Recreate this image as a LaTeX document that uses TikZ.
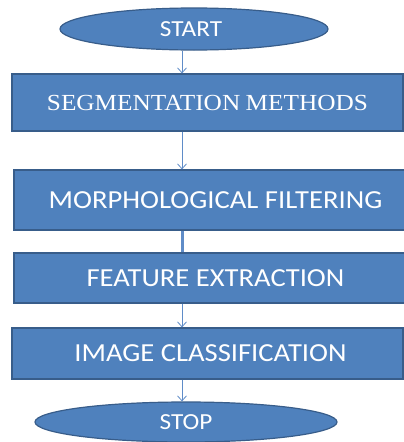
\documentclass[tikz,border=0pt]{standalone}
\usepackage{fontspec}
\setmainfont{Carlito}
\newfontfamily\serifcaps{Liberation Serif}
\usetikzlibrary{shapes.geometric,arrows.meta}
\definecolor{boxfill}{HTML}{4F81BD}
\definecolor{boxedge}{HTML}{385D8A}
\definecolor{flowline}{HTML}{5F8CC8}
% labels are set slightly wide
\newcommand{\widetext}[1]{\scalebox{1.1}[1]{#1}}
\tikzset{
  stepbox/.style={rectangle, draw=boxedge, line width=1.2pt, fill=boxfill,
    text=white, inner sep=0pt, minimum width=391pt},
  terminal/.style={ellipse, draw=boxedge, line width=1.2pt, fill=boxfill,
    text=white, inner sep=0pt, font=\fontsize{23}{25}\selectfont},
  flow/.style={draw=flowline, line width=0.8pt, -{Straight Barb[length=5pt,width=9pt]}},
  lbl/.style={font=\fontsize{26}{28}\selectfont},
}
\begin{document}
\begin{tikzpicture}[x=1pt,y=-1pt]
\useasboundingbox[fill=white] (0,0) rectangle (404,442);
\coordinate (ax) at (182,0);

\node[terminal, minimum width=268pt, minimum height=42pt] (start) at (194,29) {\widetext{START}\hspace*{6pt}};
\node[stepbox, minimum height=57pt] (seg) at (207.5,102.5)
  {\serifcaps\fontsize{23}{25}\selectfont\widetext{SEGMENTATION\kern5pt METHODS}};
\node[stepbox, minimum height=60pt, lbl] (morph) at (209.5,200) {\hspace*{12pt}\widetext{MORPHOLOGICAL FILTERING}};
\node[stepbox, minimum height=50pt, lbl] (feat) at (209.5,278) {\hspace*{12pt}\widetext{FEATURE EXTRACTION}};
\node[stepbox, minimum height=51pt, lbl] (cls) at (207.5,353.5) {\hspace*{6pt}\widetext{IMAGE CLASSIFICATION}};
\node[terminal, minimum width=302pt, minimum height=40pt] (stop) at (186,422) {\widetext{STOP}};

\draw[flow] (start.south -| ax) -- (seg.north -| ax);
\draw[flow] (seg.south -| ax) -- (morph.north -| ax);
\draw[draw=flowline, line width=3pt] (morph.south -| ax) -- (feat.north -| ax);
\draw[flow] (feat.south -| ax) -- (cls.north -| ax);
\draw[flow] (cls.south -| ax) -- (stop.north -| ax);
\end{tikzpicture}
\end{document}
